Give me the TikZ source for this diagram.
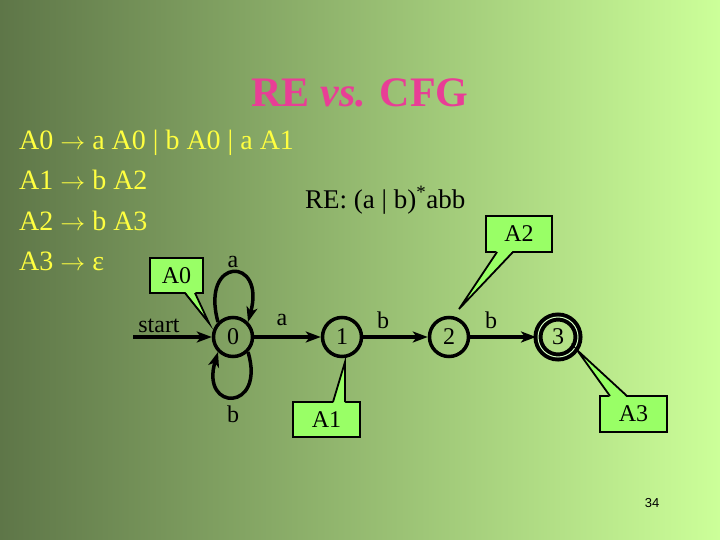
\documentclass[tikz,border=0pt]{standalone}
\usepackage{fontspec}
\setmainfont{Liberation Serif}
\newfontfamily\numfont{Liberation Sans}
\usetikzlibrary{arrows.meta}
\definecolor{bgL}{RGB}{94,118,72}
\definecolor{bgM}{RGB}{158,198,114}
\definecolor{bgR}{RGB}{204,255,153}
\definecolor{titlepink}{RGB}{232,62,150}
\definecolor{gramyellow}{RGB}{255,255,64}
\definecolor{callfill}{RGB}{153,255,102}
\tikzset{
  fsmstate/.style={circle, draw=black, line width=3.5pt, minimum size=39pt, inner sep=0pt, font=\fontsize{24}{24}\selectfont},
  trans/.style={line width=3.5pt, -{Stealth[length=15pt,width=11pt,inset=4pt]}},
  lbl/.style={font=\fontsize{24}{24}\selectfont, inner sep=0pt},
  callbox/.style={draw=black, line width=1.8pt, fill=callfill, minimum width=66pt, minimum height=36pt, inner sep=0pt, outer sep=0pt, font=\fontsize{24}{24}\selectfont},
  callfillpath/.style={fill=callfill},
  calledge/.style={draw=black, line width=1.8pt, line join=miter},
  gram/.style={anchor=base west, inner sep=0pt, text=gramyellow, font=\fontsize{28}{28}\selectfont},
}
\newcommand{\gto}{ $\rightarrow$ }
\begin{document}
\begin{tikzpicture}[x=1pt,y=1pt]
\shade[left color=bgL, middle color=bgM, right color=bgR] (0,0) rectangle (720,-540);
\useasboundingbox (0,0) rectangle (720,-540);

% title
\node[anchor=base, inner sep=0pt, text=titlepink, font=\fontsize{42}{42}\selectfont\bfseries] (title) at (360,-107) {RE \textit{vs.} CFG};

% grammar
\node[gram] (g1) at (19,-149.5) {A0\gto a A0 | b A0 | a A1};
\node[gram] (g2) at (19,-190) {A1\gto b A2};
\node[gram] (g3) at (19,-230) {A2\gto b A3};
\node[gram] (g4) at (19,-270) {A3\gto ε};

% RE
\node[anchor=base west, inner sep=0pt, font=\fontsize{27}{27}\selectfont] (re) at (305,-208) {RE: (a | b)\textsuperscript{*}abb};

% states
\node[fsmstate] (s0) at (233,-337) {0};
\node[fsmstate] (s1) at (342,-337) {1};
\node[fsmstate] (s2) at (449,-337) {2};
\node[fsmstate, line width=4pt, double=white!60!callfill, double distance=1pt, minimum size=40pt] (s3) at (558,-337) {3};

\coordinate (startpt) at (133,-337);
\draw[trans] (startpt) -- (s0);
\draw[trans] (s0) -- (s1);
\draw[trans] (s1) -- (s2);
\draw[trans] (s2) -- (s3);
\draw[trans] (s0.135) .. controls (200,-256) and (266,-256) .. (s0.45);
\draw[trans] (s0.-45) .. controls (266,-412) and (200,-412) .. (s0.-135);

% labels
\node[lbl] (lstart) at (159,-326) {start};
\node[lbl] (la0) at (233,-262) {a};
\node[lbl] (lb0) at (233,-414) {b};
\node[lbl] (la1) at (282,-320) {a};
\node[lbl] (lb1) at (383,-320) {b};
\node[lbl] (lb2) at (491,-320) {b};

% callouts
\node[callbox, minimum width=53pt, minimum height=35pt] (cA0) at (176.5,-275.5) {A0};
\node[callbox, minimum width=67pt, minimum height=35pt] (cA1) at (326.5,-419.5) {A1};
\node[callbox] (cA2) at (519,-234) {A2};
\node[callbox, minimum width=67pt] (cA3) at (633.5,-414) {A3};

\coordinate (p0a) at ([xshift=35pt]cA0.south west);
\coordinate (p0b) at ([xshift=45pt]cA0.south west);
\coordinate (p0t) at (209,-323);
\fill[callfillpath] ([yshift=1.5pt]p0a) -- (p0t) -- ([yshift=1.5pt]p0b) -- cycle;
\draw[calledge] (p0a) -- (p0t) -- (p0b);

\coordinate (p1a) at ([xshift=40pt]cA1.north west);
\coordinate (p1b) at ([xshift=52pt]cA1.north west);
\coordinate (p1t) at (345,-362);
\fill[callfillpath] ([yshift=-1.5pt]p1a) -- (p1t) -- ([yshift=-1.5pt]p1b) -- cycle;
\draw[calledge] (p1a) -- (p1t) -- (p1b);

\coordinate (p2a) at ([xshift=11pt]cA2.south west);
\coordinate (p2b) at ([xshift=27pt]cA2.south west);
\coordinate (p2t) at (459,-309);
\fill[callfillpath] ([yshift=1.5pt]p2a) -- (p2t) -- ([yshift=1.5pt]p2b) -- cycle;
\draw[calledge] (p2a) -- (p2t) -- (p2b);

\coordinate (p3a) at ([xshift=10pt]cA3.north west);
\coordinate (p3b) at ([xshift=27pt]cA3.north west);
\coordinate (p3t) at (577,-350);
\fill[callfillpath] ([yshift=-1.5pt]p3a) -- (p3t) -- ([yshift=-1.5pt]p3b) -- cycle;
\draw[calledge] (p3a) -- (p3t) -- (p3b);

% page number
\node[inner sep=0pt, font=\numfont\fontsize{13}{13}\selectfont] (pnum) at (652,-503) {34};
\end{tikzpicture}
\end{document}
